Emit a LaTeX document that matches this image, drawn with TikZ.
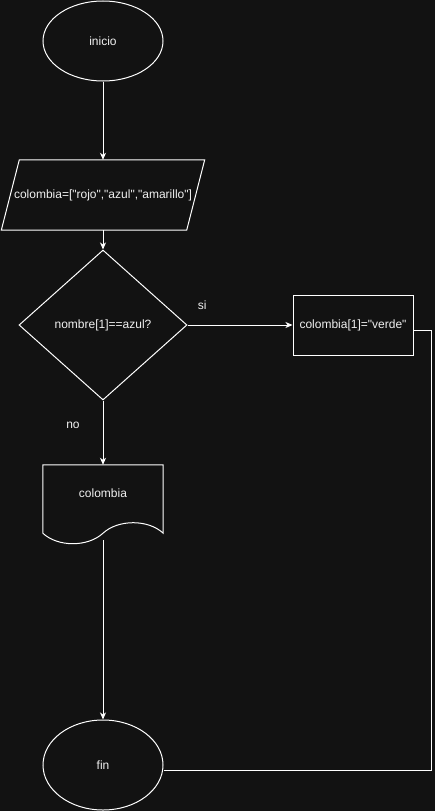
\documentclass[tikz,border=0pt]{standalone}
\usepackage{fontspec}
\setmainfont{Liberation Sans}[Ligatures=TeXOff]
\usetikzlibrary{arrows.meta,shapes.geometric,calc}
\definecolor{fondo}{RGB}{18,18,18}
\definecolor{tinta}{RGB}{240,240,240}
\tikzset{
    terminal/.style = {ellipse,
                    draw=white,
                    text=tinta,
                    line width=1pt,
                    inner sep=0pt,
                    minimum width=120pt,
                    minimum height=80pt},
    datos/.style =  {rectangle,
                    text=tinta,
                    inner sep=0pt,
                    minimum width=185pt,
                    minimum height=70pt},
    decision/.style = {diamond,
                    draw=white,
                    text=tinta,
                    line width=1pt,
                    inner sep=0pt,
                    aspect=1.12,
                    minimum width=168pt,
                    minimum height=150pt},
    proceso/.style = {rectangle,
                    draw=white,
                    text=tinta,
                    line width=1pt,
                    minimum width=120pt,
                    minimum height=60pt},
    documento/.style = {rectangle,
                    text=tinta,
                    inner sep=0pt,
                    minimum width=120pt,
                    minimum height=68pt},
    etiqueta/.style = {text=tinta, inner sep=0pt},
    flecha/.style = {draw=white, line width=1pt,
                    -{Stealth[length=7pt,width=6pt,inset=2pt]}},
    linea/.style =  {draw=white, line width=1pt},
    x=1pt, y=-1pt}

\begin{document}
\begin{tikzpicture}[font=\fontsize{12}{14}\selectfont]
                \fill[fondo] (0,0) rectangle (435,811);
                \useasboundingbox (0,0) rectangle (435,811);

                \node[terminal]     (inicio)   at (103,41)             {inicio};
                \node[datos]        (lista)    [below of=inicio,node distance=154pt] {colombia=["rojo","azul","amarillo"]};
                \node[decision]     (pregunta) [below of=lista,node distance=130pt]  {nombre[1]==azul?};
                \node[proceso]      (cambio)   [right of=pregunta,node distance=250pt] {colombia[1]="verde"};
                \node[documento]    (salida)   [below of=pregunta,node distance=174pt] {};
                \node[etiqueta]     (texto)    at ($(salida.center)+(0,-6)$) {colombia};
                \node[terminal,minimum height=90pt] (fin) [below of=salida,node distance=266pt] {fin};

                % entrada de datos inclinada
                \draw[linea] ($(lista.north west)+(9,0)$) -- ($(lista.north east)+(9,0)$)
                             -- ($(lista.south east)+(-9,0)$) -- ($(lista.south west)+(-9,0)$) -- cycle;
                % hoja con borde ondulado
                \draw[linea] (salida.south west) -- (salida.north west) -- (salida.north east) -- (salida.south east)
                             .. controls ($(salida.south east)+(-15,-14)$) and ($(salida.south east)+(-45,-14)$) .. (salida.south)
                             .. controls ($(salida.south west)+(45,14)$) and ($(salida.south west)+(15,14)$) .. (salida.south west);
                \coordinate (pie) at ($(salida.south)+(0,7)$);

                \path [every edge/.append style={flecha}]
                                (inicio) edge (lista)
                                (lista) edge (pregunta)
                                (pregunta.east) edge node[etiqueta,pos=0.14,yshift=20pt] {si} (cambio.west)
                                (pregunta.south) edge node[etiqueta,pos=0.38,xshift=-30pt] {no} (salida.north)
                                (pie) edge (fin.north);
                \draw[linea] ([yshift=-5pt]cambio.east) -- ++(18,0) |- ([yshift=-5pt]fin.east);
        \end{tikzpicture}
\end{document}
